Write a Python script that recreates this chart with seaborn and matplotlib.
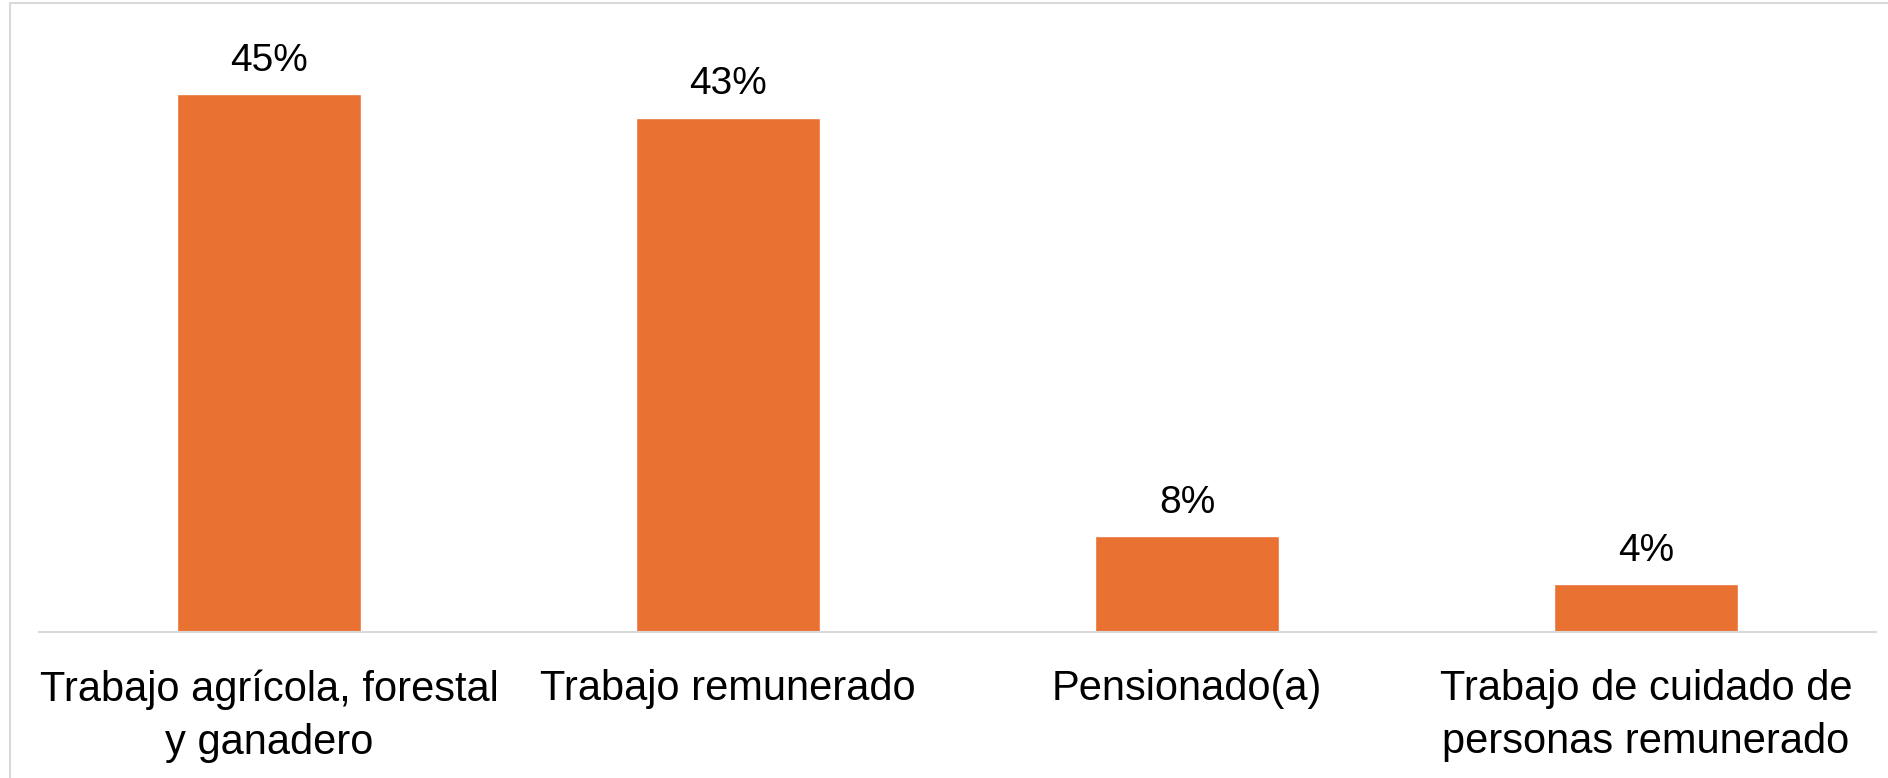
import matplotlib
matplotlib.use("Agg")
import matplotlib.pyplot as plt
import seaborn as sns

# data
categories = [
    "Trabajo agrícola, forestal\ny ganadero",
    "Trabajo remunerado",
    "Pensionado(a)",
    "Trabajo de cuidado de\npersonas remunerado",
]
values = [45, 43, 8, 4]
value_labels = ["45%", "43%", "8%", "4%"]

BAR_COLOR = "#E97132"
GRID_GRAY = "#D9D9D9"

sns.set_theme(style="white")
plt.rcParams['font.family'] = ['Liberation Sans', 'DejaVu Sans']
plt.rcParams['text.color'] = 'black'
plt.rcParams['xtick.color'] = 'black'

fig = plt.figure(figsize=(18.88, 7.78), dpi=100)
ax = fig.add_axes([0.0209, 0.1877, 0.9725, 0.7686])

sns.barplot(x=categories, y=values, color=BAR_COLOR, saturation=1,
            width=0.4, ax=ax)

ax.set_ylim(0, 50)
ax.set_yticks([])
ax.set_xlabel("")
ax.set_ylabel("")
for side in ["top", "right", "left"]:
    ax.spines[side].set_visible(False)
ax.spines["bottom"].set_color(GRID_GRAY)
ax.spines["bottom"].set_linewidth(1.5)

ax.bar_label(ax.containers[0], labels=value_labels, padding=11,
             fontsize=28, color="black")

ax.tick_params(axis="x", length=0, pad=27, labelsize=30, labelcolor="black")
for lbl in ax.get_xticklabels():
    lbl.set_linespacing(1.42)

# light chart border (left and top visible)
fig.add_artist(plt.Line2D([10 / 1888, 10 / 1888], [0, 1 - 3 / 778],
                          transform=fig.transFigure, color=GRID_GRAY, lw=1.5))
fig.add_artist(plt.Line2D([10 / 1888, 1], [1 - 3 / 778, 1 - 3 / 778],
                          transform=fig.transFigure, color=GRID_GRAY, lw=1.5))

fig.savefig("out.png", dpi=100)
